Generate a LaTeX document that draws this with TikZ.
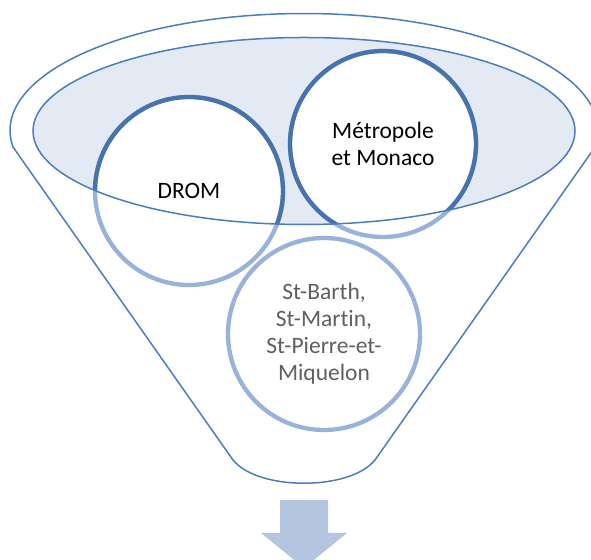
\documentclass[tikz,border=0pt]{standalone}
\usepackage{fontspec}
\setmainfont{Carlito}[Ligatures=NoCommon]
\definecolor{lineblue}{HTML}{4A7EBB}
\definecolor{darkring}{HTML}{4673AE}
\definecolor{lightring}{HTML}{98B3DA}
\definecolor{ellfill}{HTML}{E4EAF3}
\definecolor{arrowfill}{HTML}{B4C5DF}
\definecolor{greytext}{HTML}{5F5F5F}
\begin{document}
\begin{tikzpicture}[x=1pt,y=1pt,
  funnelline/.style={draw=lineblue,line width=1.5pt,line join=round},
  ringnode/.style={circle,draw=lightring,fill=white,line width=4.3pt,inner sep=0pt,
     align=center,font=\fontsize{23.5}{27}\selectfont},
  darkringline/.style={draw=darkring,line width=4.3pt}]
\useasboundingbox (0,0) rectangle (591,559);
\clip (0,0) rectangle (591,559);
% funnel body
\draw[funnelline,fill=white] (233,99) -- (13,412)
  arc[start angle=188.1,end angle=-8.1,x radius=294pt,y radius=117pt]
  -- (375,99) .. controls (350,68) and (258,68) .. (233,99) -- cycle;
% inner ellipse (fill)
\fill[ellfill] (304,428) ellipse[x radius=271pt,y radius=93.5pt];
% circles
\node[ringnode,minimum size=188pt] (drom) at (189,368) {DROM};
\node[ringnode,minimum size=186pt] (metro) at (383,415) {Métropole\\et Monaco};
\node[ringnode,minimum size=192pt,text=greytext] (stb) at (324,225) {St-Barth,\\St-Martin,\\St-Pierre-et-\\Miquelon};
% dark parts of rings inside the ellipse
\begin{scope}
  \clip (304,428) ellipse[x radius=271pt,y radius=93.5pt];
  \draw[darkringline] (drom.center) circle[radius=94pt];
  \draw[darkringline] (metro.center) circle[radius=93pt];
\end{scope}
% ellipse outline on top
\draw[funnelline] (304,428) ellipse[x radius=271pt,y radius=93.5pt];
% arrow
\fill[arrowfill] (280,59) -- (328,59) -- (328,26) -- (347,26) -- (304,-9)
  -- (261,26) -- (280,26) -- cycle;
\end{tikzpicture}
\end{document}
